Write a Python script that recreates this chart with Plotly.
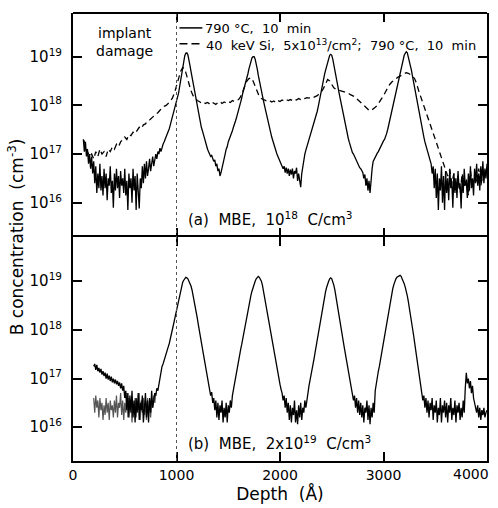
import plotly.graph_objects as go

# ---------------- data (log10 of B concentration, cm^-3) ----------------
# (a) MBE, 1e18 C/cm3 -- 790 C, 10 min (solid); depth 100..4000 A, step 10 A
top_solid_start, top_solid_step = 100, 10
top_solid_log = [
    17.3, 17.05, 17.25, 16.95, 17.1, 16.8, 17.0, 16.7, 16.95, 16.6,        # 100
    16.85, 16.4, 16.75, 16.2, 16.6, 16.3, 16.8, 16.25, 16.55, 16.15,       # 200
    16.7, 16.3, 16.6, 16.05, 16.5, 16.35, 16.75, 16.2, 16.45, 15.9,        # 300
    16.6, 16.25, 16.7, 16.3, 16.55, 16.1, 16.65, 16.35, 16.5, 16.2,        # 400
    16.7, 16.15, 16.45, 15.85, 16.6, 16.3, 16.5, 16.0, 16.7, 16.25,        # 500
    16.55, 15.85, 16.6, 16.2, 15.88, 16.5, 16.3, 16.75, 16.4, 16.8,        # 600
    16.5, 16.85, 16.55, 16.7, 16.9, 16.65, 16.8, 16.95, 16.75, 16.9,       # 700
    17.0, 16.9, 17.05, 17.0, 17.12, 17.05, 17.15, 17.2, 17.25, 17.3,       # 800
    17.35, 17.42, 17.48, 17.52, 17.6, 17.68, 17.75, 17.82, 17.92, 18.0,    # 900
    18.08, 18.15, 18.25, 18.38, 18.52, 18.66, 18.8, 18.92, 19.02, 19.07,   # 1000
    19.08, 19.04, 18.95, 18.82, 18.7, 18.58, 18.45, 18.32, 18.2, 18.08,    # 1100
    17.95, 17.85, 17.75, 17.65, 17.55, 17.48, 17.4, 17.3, 17.22, 17.15,    # 1200
    17.1, 17.05, 17.0, 16.95, 16.97, 16.9, 16.85, 16.88, 16.75, 16.8,      # 1300
    16.65, 16.7, 16.55, 16.62, 16.7, 16.8, 16.9, 17.0, 17.1, 17.15,        # 1400
    17.25, 17.3, 17.38, 17.42, 17.48, 17.55, 17.6, 17.68, 17.75, 17.82,    # 1500
    17.9, 17.98, 18.05, 18.15, 18.25, 18.32, 18.4, 18.48, 18.55, 18.65,    # 1600
    18.75, 18.85, 18.93, 18.98, 19.0, 19.0, 18.95, 18.87, 18.75, 18.62,    # 1700
    18.5, 18.4, 18.3, 18.2, 18.1, 18.0, 17.9, 17.82, 17.75, 17.65,         # 1800
    17.55, 17.45, 17.35, 17.28, 17.2, 17.12, 17.05, 17.0, 16.95, 16.9,     # 1900
    16.85, 16.8, 16.78, 16.7, 16.75, 16.62, 16.72, 16.6, 16.7, 16.55,      # 2000
    16.68, 16.58, 16.7, 16.5, 16.65, 16.6, 16.72, 16.45, 16.6, 16.4,       # 2100
    16.32, 16.6, 16.75, 16.9, 17.0, 17.08, 17.15, 17.22, 17.3, 17.36,      # 2200
    17.42, 17.48, 17.55, 17.62, 17.7, 17.78, 17.88, 17.98, 18.1, 18.22,    # 2300
    18.35, 18.45, 18.55, 18.63, 18.72, 18.8, 18.9, 18.97, 19.03, 19.05,    # 2400
    19.03, 18.95, 18.85, 18.74, 18.62, 18.5, 18.38, 18.26, 18.15, 18.03,   # 2500
    17.92, 17.8, 17.7, 17.6, 17.5, 17.4, 17.32, 17.24, 17.15, 17.08,       # 2600
    17.03, 17.0, 16.95, 16.9, 16.85, 16.8, 16.77, 16.72, 16.7, 16.65,      # 2700
    16.62, 16.5, 16.58, 16.35, 16.5, 16.25, 16.45, 16.2, 16.5, 16.7,       # 2800
    16.85, 16.9, 16.95, 16.98, 17.02, 17.05, 17.1, 17.15, 17.2, 17.24,     # 2900
    17.27, 17.3, 17.35, 17.42, 17.5, 17.6, 17.7, 17.8, 17.9, 18.0,         # 3000
    18.1, 18.2, 18.3, 18.4, 18.5, 18.6, 18.7, 18.8, 18.9, 18.97,           # 3100
    19.03, 19.07, 19.1, 19.08, 19.0, 18.92, 18.82, 18.72, 18.6, 18.48,     # 3200
    18.35, 18.24, 18.12, 18.0, 17.9, 17.78, 17.65, 17.55, 17.45, 17.35,    # 3300
    17.25, 17.18, 17.1, 17.02, 16.95, 16.88, 16.8, 16.6, 16.75, 16.3,      # 3400
    16.7, 16.1, 16.6, 15.85, 16.5, 16.25, 16.75, 16.0, 16.55, 15.85,       # 3500
    16.65, 16.2, 16.5, 16.05, 16.7, 16.3, 16.45, 15.9, 16.6, 16.2,         # 3600
    16.5, 16.1, 16.65, 16.3, 16.4, 15.88, 16.55, 16.2, 16.7, 16.35,        # 3700
    16.45, 16.1, 16.6, 16.25, 16.75, 16.3, 16.5, 16.15, 16.7, 16.4,        # 3800
    16.8, 16.35, 16.6, 16.25, 16.75, 16.45, 16.85, 16.4, 16.7, 16.5,       # 3900
    16.8,                                                                  # 4000
]

# (a) 40 keV Si, 5e13/cm2; 790 C, 10 min (dashed); depth 100..4000 A, step 20 A
top_dash_start, top_dash_step = 100, 20
top_dash_log = [
    17.3, 17.2, 17.05, 16.95, 17.0, 16.9, 17.05, 16.95, 17.1, 17.0,        # 100
    17.05, 16.95, 17.1, 17.05, 17.15, 17.1, 17.2, 17.15, 17.25, 17.3,      # 300
    17.35, 17.3, 17.4, 17.38, 17.45, 17.42, 17.5, 17.55, 17.52, 17.6,      # 500
    17.62, 17.68, 17.7, 17.75, 17.78, 17.82, 17.85, 17.9, 17.95, 17.98,    # 700
    18.0, 18.04, 18.08, 18.15, 18.25, 18.4, 18.55, 18.7, 18.78, 18.75,     # 900
    18.6, 18.42, 18.3, 18.2, 18.14, 18.1, 18.08, 18.05, 18.07, 18.04,      # 1100
    18.06, 18.03, 18.07, 18.05, 18.02, 18.06, 18.08, 18.04, 18.07, 18.05,  # 1300
    18.08, 18.06, 18.1, 18.08, 18.1, 18.12, 18.18, 18.28, 18.4, 18.5,      # 1500
    18.55, 18.57, 18.5, 18.4, 18.28, 18.18, 18.14, 18.12, 18.1, 18.08,     # 1700
    18.1, 18.07, 18.09, 18.06, 18.1, 18.08, 18.11, 18.09, 18.12, 18.1,     # 1900
    18.12, 18.1, 18.13, 18.11, 18.14, 18.12, 18.15, 18.14, 18.16, 18.15,   # 2100
    18.17, 18.16, 18.18, 18.2, 18.24, 18.28, 18.35, 18.45, 18.53, 18.5,    # 2300
    18.42, 18.36, 18.33, 18.32, 18.3, 18.3, 18.28, 18.26, 18.25, 18.22,    # 2500
    18.2, 18.18, 18.14, 18.1, 18.06, 18.02, 17.98, 17.94, 17.9, 17.89,     # 2700
    17.92, 17.96, 18.0, 18.06, 18.12, 18.2, 18.28, 18.36, 18.43, 18.48,    # 2900
    18.52, 18.55, 18.58, 18.6, 18.63, 18.65, 18.67, 18.66, 18.63, 18.6,    # 3100
    18.55, 18.45, 18.3, 18.18, 18.06, 17.93, 17.8, 17.68, 17.55, 17.43,    # 3300
    17.3, 17.18, 17.05, 16.92, 16.8, 16.7, 16.55, 16.68, 16.4, 16.6,       # 3500
    16.3, 16.55, 16.2, 16.6, 16.35, 16.5, 16.15, 16.65, 16.3, 16.55,       # 3700
    16.4, 16.7, 16.35, 16.6, 16.5, 16.75,                                  # 3900
]

# (b) MBE, 2e19 C/cm3 -- main profile; depth 200..4000 A, step 10 A
bot_main_start, bot_main_step = 200, 10
bot_main_log = [
    17.25, 17.3, 17.18, 17.28, 17.15, 17.22, 17.12, 17.2, 17.08, 17.15,    # 200
    17.05, 17.12, 17.0, 17.1, 16.98, 17.06, 16.95, 17.04, 16.92, 17.0,     # 300
    16.9, 16.98, 16.88, 16.95, 16.85, 16.92, 16.8, 16.9, 16.75, 16.85,     # 400
    16.6, 16.75, 16.35, 16.7, 16.2, 16.65, 16.3, 16.75, 16.2, 16.55,       # 500
    16.1, 16.6, 16.3, 16.7, 16.15, 16.5, 16.35, 16.65, 16.1, 16.45,        # 600
    16.7, 16.2, 16.55, 16.1, 16.6, 16.3, 16.75, 16.4, 16.6, 16.7,          # 700
    16.65, 16.8, 16.75, 16.9, 17.05, 17.2, 17.25, 17.3, 17.38, 17.45,      # 800
    17.5, 17.58, 17.65, 17.72, 17.8, 17.9, 18.0, 18.1, 18.2, 18.3,         # 900
    18.4, 18.5, 18.6, 18.71, 18.82, 18.9, 18.98, 19.02, 19.06, 19.08,      # 1000
    19.07, 19.05, 19.0, 18.96, 18.9, 18.82, 18.72, 18.62, 18.52, 18.38,    # 1100
    18.25, 18.12, 17.98, 17.86, 17.75, 17.62, 17.5, 17.38, 17.25, 17.12,   # 1200
    17.0, 16.9, 16.8, 16.65, 16.72, 16.5, 16.6, 16.35, 16.55, 16.2,        # 1300
    16.5, 16.15, 16.45, 16.3, 16.55, 16.1, 16.4, 16.2, 16.5, 16.1,         # 1400
    16.45, 16.3, 16.55, 16.4, 16.65, 16.78, 16.9, 17.0, 17.1, 17.22,       # 1500
    17.35, 17.48, 17.6, 17.7, 17.82, 17.95, 18.05, 18.18, 18.3, 18.42,     # 1600
    18.52, 18.62, 18.72, 18.8, 18.88, 18.95, 19.0, 19.05, 19.08, 19.1,     # 1700
    19.08, 19.05, 19.0, 18.92, 18.8, 18.68, 18.55, 18.42, 18.3, 18.18,     # 1800
    18.05, 17.92, 17.8, 17.68, 17.55, 17.42, 17.3, 17.18, 17.05, 16.95,    # 1900
    16.88, 16.78, 16.7, 16.55, 16.65, 16.4, 16.6, 16.3, 16.5, 16.15,       # 2000
    16.45, 16.1, 16.4, 16.25, 16.55, 16.1, 16.35, 16.06, 16.45, 16.2,      # 2100
    16.5, 16.15, 16.4, 16.3, 16.55, 16.4, 16.6, 16.7, 16.85, 16.95,        # 2200
    17.05, 17.18, 17.3, 17.42, 17.55, 17.68, 17.8, 17.92, 18.05, 18.18,    # 2300
    18.3, 18.42, 18.55, 18.67, 18.78, 18.87, 18.95, 19.0, 19.05, 19.07,    # 2400
    19.05, 19.0, 18.92, 18.82, 18.7, 18.58, 18.45, 18.3, 18.15, 18.02,     # 2500
    17.9, 17.78, 17.65, 17.52, 17.4, 17.28, 17.15, 17.02, 16.9, 16.8,      # 2600
    16.7, 16.55, 16.65, 16.4, 16.6, 16.3, 16.55, 16.25, 16.5, 16.2,        # 2700
    16.45, 16.1, 16.4, 16.3, 16.55, 16.15, 16.45, 16.06, 16.4, 16.2,       # 2800
    16.5, 16.3, 16.75, 16.92, 17.05, 17.15, 17.25, 17.38, 17.5, 17.62,     # 2900
    17.75, 17.88, 18.0, 18.12, 18.25, 18.38, 18.5, 18.62, 18.75, 18.85,    # 3000
    18.93, 19.0, 19.05, 19.08, 19.1, 19.12, 19.12, 19.1, 19.06, 19.02,     # 3100
    18.95, 18.88, 18.8, 18.7, 18.58, 18.46, 18.32, 18.18, 18.04, 17.9,     # 3200
    17.75, 17.6, 17.42, 17.25, 17.08, 16.95, 16.82, 16.7, 16.55, 16.65,    # 3300
    16.4, 16.6, 16.3, 16.55, 16.2, 16.5, 16.35, 16.6, 16.15, 16.45,        # 3400
    16.3, 16.55, 16.1, 16.4, 16.25, 16.6, 16.1, 16.45, 16.3, 16.55,        # 3500
    16.2, 16.5, 16.1, 16.45, 16.3, 16.6, 16.15, 16.4, 16.25, 16.55,        # 3600
    16.1, 16.45, 16.3, 16.5, 16.15, 16.4, 16.2, 16.55, 16.3, 16.8,         # 3700
    17.12, 16.9, 17.0, 16.8, 16.95, 16.7, 16.85, 16.6, 16.5, 16.4,         # 3800
    16.3, 16.45, 16.2, 16.4, 16.15, 16.35, 16.25, 16.4, 16.2, 16.3,        # 3900
    16.35,                                                                 # 4000
]

# (b) second (lighter) profile, near-surface part; depth 200..800 A, step 10 A
bot_second_start, bot_second_step = 200, 10
bot_second_log = [
    16.6, 16.3, 16.65, 16.4, 16.55, 16.2, 16.6, 16.35, 16.5, 16.15,        # 200
    16.45, 16.25, 16.6, 16.3, 16.5, 16.15, 16.55, 16.35, 16.45, 16.2,      # 300
    16.55, 16.3, 16.65, 16.2, 16.5, 16.4, 16.7, 16.25, 16.55, 16.15,       # 400
    16.5, 16.3, 16.7, 16.2, 16.6, 16.35, 16.5, 16.1, 16.45, 16.3,          # 500
    16.6, 16.2, 16.5, 16.35, 16.7, 16.15, 16.55, 16.3, 16.6, 16.25,        # 600
    16.5, 16.15, 16.6, 16.35, 16.45, 16.2, 16.55, 16.4, 16.65, 16.5,       # 700
    16.7,                                                                  # 800
]

x_tick_vals = [0, 1000, 2000, 3000, 4000]
x_tick_text = ["0", "1000", "2000", "3000", ""]
y_tick_exps = [16, 17, 18, 19]
legend_solid = "790 °C,  10  min"
legend_dash = "40  keV Si,  5x10<sup>13</sup>/cm<sup>2</sup>;  790 °C,  10  min"
label_a = "(a)  MBE,  10<sup>18</sup>  C/cm<sup>3</sup>"
label_b = "(b)  MBE,  2x10<sup>19</sup>  C/cm<sup>3</sup>"


def depths(start, step, vals):
    return [start + step * i for i in range(len(vals))]


def conc(vals):
    return [10 ** v for v in vals]


FONT = "DejaVu Sans"
fig = go.Figure()

# top panel (x2 / y2)
fig.add_trace(go.Scatter(x=depths(top_solid_start, top_solid_step, top_solid_log),
                         y=conc(top_solid_log), mode="lines", xaxis="x2", yaxis="y2",
                         line=dict(color="black", width=1.3), showlegend=False))
fig.add_trace(go.Scatter(x=depths(top_dash_start, top_dash_step, top_dash_log),
                         y=conc(top_dash_log), mode="lines", xaxis="x2", yaxis="y2",
                         line=dict(color="black", width=1.3, dash="6px,4px"), showlegend=False))
# bottom panel (x / y)
fig.add_trace(go.Scatter(x=depths(bot_second_start, bot_second_step, bot_second_log),
                         y=conc(bot_second_log), mode="lines", xaxis="x", yaxis="y",
                         line=dict(color="#555555", width=1.2), showlegend=False))
fig.add_trace(go.Scatter(x=depths(bot_main_start, bot_main_step, bot_main_log),
                         y=conc(bot_main_log), mode="lines", xaxis="x", yaxis="y",
                         line=dict(color="black", width=1.3), showlegend=False))

split = (464 - 239) / 451.0

axis_common = dict(linecolor="black", linewidth=2, mirror="ticks",
                   ticks="inside", ticklen=9, tickwidth=1.5, tickcolor="black",
                   showgrid=False, zeroline=False)
ytick_text = ["10<sup>%d</sup>" % e for e in y_tick_exps]
ytick_vals = [10 ** e for e in y_tick_exps]

fig.update_layout(
    width=498, height=508,
    margin=dict(l=73, r=9, t=13, b=44),
    paper_bgcolor="white", plot_bgcolor="white",
    font=dict(family=FONT, color="black"),
    xaxis=dict(domain=[0, 1], anchor="y", range=[0, 4000], tickvals=x_tick_vals,
               ticktext=x_tick_text, tickfont=dict(size=14, family=FONT), showline=True,
               title=dict(text="Depth  (Å)", font=dict(size=17, family=FONT), standoff=4),
               **axis_common),
    # top panel's own x line is hidden so the shared boundary is a single rule
    xaxis2=dict(domain=[0, 1], anchor="y2", matches="x", tickvals=x_tick_vals,
                showticklabels=False, showline=False, **axis_common),
    yaxis=dict(domain=[0, split], anchor="x", type="log", range=[15.306, 19.898],
               tickvals=ytick_vals, ticktext=ytick_text, ticklabelstandoff=6, showline=True,
               tickfont=dict(size=15, family=FONT), **axis_common),
    yaxis2=dict(domain=[split, 1], anchor="x2", type="log", range=[15.286, 19.898],
                tickvals=ytick_vals, ticktext=ytick_text, ticklabelstandoff=6, showline=True,
                tickfont=dict(size=15, family=FONT), **axis_common),
)

# top frame edge of the upper panel
fig.add_shape(type="line", xref="paper", yref="paper", x0=0, x1=1, y0=1, y1=1,
              line=dict(color="black", width=2))

# dotted marker line at 1000 A across both panels
fig.add_shape(type="line", xref="x", yref="paper", x0=1000, x1=1000, y0=0, y1=1,
              line=dict(color="#555555", width=1, dash="dot"))


def px_to_paper_x(px):
    return (px - 73) / 416.0


def py_to_paper_y(py):
    return (464 - py) / 451.0


# legend samples
fig.add_shape(type="line", xref="paper", yref="paper",
              x0=px_to_paper_x(180), x1=px_to_paper_x(203),
              y0=py_to_paper_y(28), y1=py_to_paper_y(28), line=dict(color="black", width=1.5))
fig.add_shape(type="line", xref="paper", yref="paper",
              x0=px_to_paper_x(180), x1=px_to_paper_x(204),
              y0=py_to_paper_y(44), y1=py_to_paper_y(44),
              line=dict(color="black", width=1.5, dash="8px,4px"))

annots = [
    dict(text=legend_solid, x=px_to_paper_x(205), y=py_to_paper_y(29), xanchor="left",
         yanchor="middle", size=13),
    dict(text=legend_dash, x=px_to_paper_x(206), y=py_to_paper_y(45), xanchor="left",
         yanchor="middle", size=13),
    dict(text="implant", x=px_to_paper_x(125), y=py_to_paper_y(42), xanchor="center",
         yanchor="bottom", size=14),
    dict(text="damage", x=px_to_paper_x(125), y=py_to_paper_y(42), xanchor="center",
         yanchor="top", size=14),
    dict(text=label_a, x=px_to_paper_x(188), y=py_to_paper_y(220), xanchor="left",
         yanchor="middle", size=15),
    dict(text=label_b, x=px_to_paper_x(188), y=py_to_paper_y(446), xanchor="left",
         yanchor="middle", size=15),
]
for a in annots:
    fig.add_annotation(text=a["text"], x=a["x"], y=a["y"], xref="paper", yref="paper",
                       xanchor=a["xanchor"], yanchor=a["yanchor"], showarrow=False,
                       borderpad=0, font=dict(size=a["size"], family=FONT, color="black"))

# "4000" tick label kept inside the page like the original
fig.add_annotation(text="4000", x=4000, xref="x", y=0, yref="paper", xanchor="right",
                   yanchor="top", xshift=4, yshift=-3, showarrow=False,
                   font=dict(size=14, family=FONT, color="black"))

# y-axis title spanning both panels
fig.add_annotation(text="B concentration  (cm<sup>-3</sup>)", x=px_to_paper_x(16), y=0.5,
                   xref="paper", yref="paper", xanchor="center", yanchor="middle",
                   textangle=-90, showarrow=False, font=dict(size=17, family=FONT, color="black"))

fig.write_html("out.html")
